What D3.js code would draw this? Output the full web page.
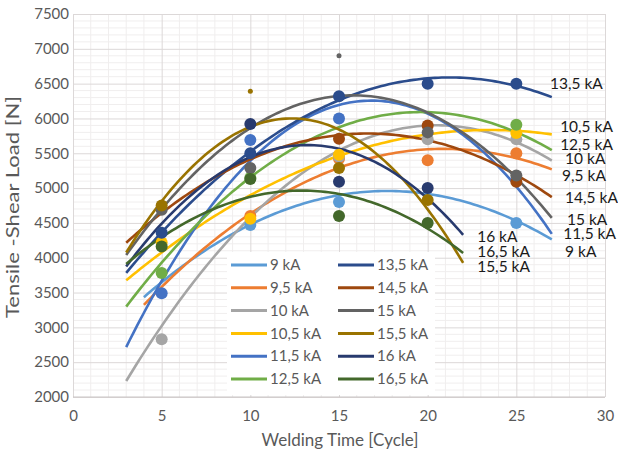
<!DOCTYPE html>
<html>
<head>
<meta charset="utf-8">
<script src="https://cdn.jsdelivr.net/npm/d3@7"></script>
<style>
  body { margin: 0; background: #fff; }
  text { font-family: Lato, "Open Sans", sans-serif; }
</style>
</head>
<body>
<svg id="chart" width="618" height="455"></svg>
<script>
// welding current of each series
var series = ["9 kA", "9,5 kA", "10 kA", "10,5 kA", "11,5 kA", "12,5 kA",
              "13,5 kA", "14,5 kA", "15 kA", "15,5 kA", "16 kA", "16,5 kA"];
var colors = ["#5B9BD5", "#ED7D31", "#A5A5A5", "#FFC000", "#4472C4", "#70AD47",
              "#2B4C8C", "#9E480E", "#636363", "#997300", "#283A6E", "#43682B"];

// measured points: welding time (cycle) -> tensile-shear load (N), null = no marker shown
var cycles = [5, 10, 15, 20, 25];
var loads = [
  [null, 4470, 4800, null, 4500],   // 9 kA
  [null, 4600, 5420, 5400, 5500],   // 9,5 kA
  [2830, null, 5450, 5700, 5700],   // 10 kA
  [4220, 4560, 5480, null, 5790],   // 10,5 kA
  [3490, 5690, 6000, null, null],   // 11,5 kA
  [3780, 5150, null, null, 5910],   // 12,5 kA
  [4360, 5500, 6320, 6500, 6500],   // 13,5 kA
  [null, null, 5710, 5900, 5090],   // 14,5 kA
  [4690, 5290, null, 5800, 5180],   // 15 kA
  [4750, null, 5290, 4830, null],   // 15,5 kA
  [null, 5920, 5090, 5000, null],   // 16 kA
  [4160, 5130, 4600, 4500, null]    // 16,5 kA
];

// the two small dots
var dotSeries = [9, 8];
var dotCycles = [10, 15];
var dotLoads = [6390, 6900];

// polynomial trendlines at a few cycles
var trendX = [
  [4, 10, 15, 20, 27], [4, 10, 15, 20, 27], [3, 10, 15, 20, 27], [3, 10, 15, 20, 27],
  [3, 10, 15, 20, 27], [3, 10, 15, 20, 27], [3, 10, 15, 20, 27], [3, 10, 15, 20, 27],
  [3, 10, 15, 20, 27], [3, 10, 15, 20, 22], [3, 10, 15, 20, 22], [3, 10, 15, 20, 22]
];
var trendY = [
  [3435, 4480, 4878, 4936, 4257],
  [3325, 4640, 5260, 5587, 5261],
  [2250, 4520, 5570, 5921, 5381],
  [3683, 4879, 5465, 5788, 5764],
  [2703, 5430, 6180, 6050, 4353],
  [3300, 5140, 5900, 6074, 5548],
  [3779, 5525, 6280, 6553, 6313],
  [4209, 5429, 5764, 5668, 4878],
  [4040, 5860, 6320, 6090, 4570],
  [4075, 5880, 5840, 4700, 3922],
  [3874, 5445, 5565, 4850, 4329],
  [3913, 4870, 4910, 4445, 4050]
];

// end labels, placed in data units (cycle, load)
var labelCycle = [27.75, 27.58, 27.75, 27.47, 27.64, 27.47, 26.9, 27.75, 27.86, 22.79, 22.79, 22.79];
var labelLoad = [4085, 5175, 5419, 5878, 4343, 5620, 6495, 4860, 4544, 3870, 4300, 4085];

var xTicks = [0, 5, 10, 15, 20, 25, 30];
var yTicks = d3.range(2000, 7501, 500);

// least squares parabola
function fitQuad(xs, ys) {
  var m = d3.mean(xs);
  var s = [0, 0, 0, 0, 0], t = [0, 0, 0];
  for (var i = 0; i < xs.length; i++) {
    var u = xs[i] - m;
    for (var k = 0; k < 5; k++) s[k] += Math.pow(u, k);
    for (var k = 0; k < 3; k++) t[k] += ys[i] * Math.pow(u, k);
  }
  var A = [[s[0], s[1], s[2], t[0]], [s[1], s[2], s[3], t[1]], [s[2], s[3], s[4], t[2]]];
  for (var c = 0; c < 3; c++) {
    for (var r = c + 1; r < 3; r++) {
      var f = A[r][c] / A[c][c];
      for (var k = c; k < 4; k++) A[r][k] -= f * A[c][k];
    }
  }
  var p = [0, 0, 0];
  for (var r = 2; r >= 0; r--) {
    var v = A[r][3];
    for (var k = r + 1; k < 3; k++) v -= A[r][k] * p[k];
    p[r] = v / A[r][r];
  }
  return x => p[0] + p[1] * (x - m) + p[2] * (x - m) * (x - m);
}

var svg = d3.select("#chart");
var pLeft = 73, pRight = 605, pTop = 14, pBottom = 397;
var x = d3.scaleLinear().domain([0, 30]).range([pLeft, pRight]);
var y = d3.scaleLinear().domain([2000, 7500]).range([pBottom, pTop]);

// minor grid
svg.append("g")
  .selectAll("line")
  .data(d3.range(1, 30).filter(d => d % 5 != 0))
  .enter().append("line")
  .attr("x1", d => x(d)).attr("x2", d => x(d))
  .attr("y1", pTop).attr("y2", pBottom)
  .attr("stroke", "#f0eeee").attr("stroke-width", 1);
svg.append("g")
  .selectAll("line")
  .data(d3.range(2100, 7500, 100).filter(d => d % 500 != 0))
  .enter().append("line")
  .attr("x1", pLeft).attr("x2", pRight)
  .attr("y1", d => y(d)).attr("y2", d => y(d))
  .attr("stroke", "#f0eeee").attr("stroke-width", 1);

// major grid and axes
var xAxis = svg.append("g")
  .attr("transform", "translate(0," + pBottom + ")")
  .call(d3.axisBottom(x).tickValues(xTicks).tickSize(-(pBottom - pTop)).tickPadding(10));
var yAxis = svg.append("g")
  .attr("transform", "translate(" + pLeft + ",0)")
  .call(d3.axisLeft(y).tickValues(yTicks).tickFormat(d3.format("d"))
    .tickSize(-(pRight - pLeft)).tickPadding(4));
[xAxis, yAxis].forEach(g => {
  g.select(".domain").remove();
  g.selectAll(".tick line").attr("stroke", "#dcd8d8");
  g.selectAll(".tick text")
    .attr("fill", "#595959")
    .style("font-size", "15px")
    .style("font-family", "Lato, sans-serif");
});
xAxis.selectAll(".tick text").attr("dy", "0.9em");
svg.append("line")
  .attr("x1", pLeft).attr("x2", pRight).attr("y1", pBottom).attr("y2", pBottom)
  .attr("stroke", "#c9c4c4");

// axis titles
svg.append("text")
  .attr("x", 340).attr("y", 446)
  .attr("text-anchor", "middle")
  .attr("fill", "#595959")
  .style("font-size", "17px")
  .text("Welding Time [Cycle]");
svg.append("text")
  .attr("transform", "translate(19,207) rotate(-90)")
  .attr("text-anchor", "middle")
  .attr("fill", "#595959")
  .attr("textLength", 222)
  .attr("lengthAdjust", "spacingAndGlyphs")
  .style("font-size", "17px")
  .text("Tensile -Shear Load [N]");

// trendlines
var line = d3.line().x(d => x(d[0])).y(d => y(d[1]));
series.forEach((name, i) => {
  var f = fitQuad(trendX[i], trendY[i]);
  var x0 = d3.min(trendX[i]), x1 = d3.max(trendX[i]);
  var pts = d3.range(x0, x1 + 0.001, 0.2).map(c => [c, f(c)]);
  svg.append("path")
    .datum(pts)
    .attr("d", line)
    .attr("fill", "none")
    .attr("stroke", colors[i])
    .attr("stroke-width", 2.6);
});

// markers
series.forEach((name, i) => {
  svg.append("g")
    .selectAll("circle")
    .data(cycles.map((c, j) => [c, loads[i][j]]).filter(d => d[1] != null))
    .enter().append("circle")
    .attr("cx", d => x(d[0]))
    .attr("cy", d => y(d[1]))
    .attr("r", 6)
    .attr("fill", colors[i]);
});
svg.append("g")
  .selectAll("circle")
  .data(dotCycles.map((c, j) => [c, dotLoads[j], dotSeries[j]]))
  .enter().append("circle")
  .attr("cx", d => x(d[0]))
  .attr("cy", d => y(d[1]))
  .attr("r", 2.5)
  .attr("fill", d => colors[d[2]]);

// end labels
svg.append("g")
  .selectAll("text")
  .data(series)
  .enter().append("text")
  .attr("x", (d, i) => x(labelCycle[i]))
  .attr("y", (d, i) => y(labelLoad[i]))
  .attr("dy", "0.35em")
  .attr("fill", "#1a1a1a")
  .style("font-size", "15.5px")
  .text(d => d);

// legend
var lg = svg.append("g").attr("transform", "translate(227,252)");
lg.append("rect").attr("width", 208).attr("height", 143).attr("fill", "#fff");
series.forEach((name, i) => {
  var col = Math.floor(i / 6), row = i % 6;
  var gx = col == 0 ? 4 : 111;
  var gy = 13 + row * 22.8;
  lg.append("line")
    .attr("x1", gx).attr("x2", gx + 36)
    .attr("y1", gy).attr("y2", gy)
    .attr("stroke", colors[i]).attr("stroke-width", 3);
  lg.append("text")
    .attr("x", gx + 39).attr("y", gy)
    .attr("dy", "0.35em")
    .attr("fill", "#595959")
    .style("font-size", "15px")
    .text(name);
});
</script>
</body>
</html>
